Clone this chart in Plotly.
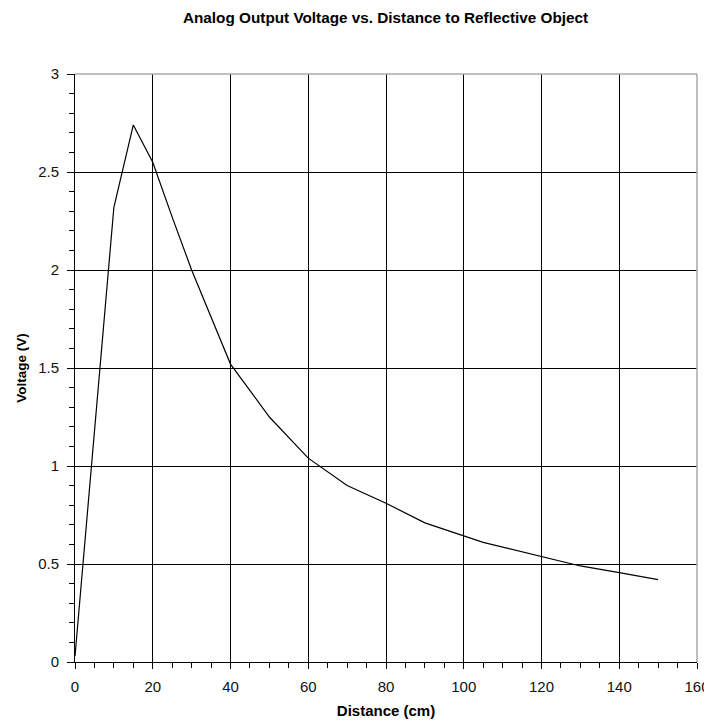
import plotly.graph_objects as go

distance_cm = [0, 10, 15, 20, 25, 30, 40, 50, 60, 70, 80, 90, 105, 120, 130, 140, 150]
voltage_v = [0.03, 2.32, 2.74, 2.55, 2.27, 2.0, 1.52, 1.25, 1.04, 0.90, 0.81, 0.71, 0.61, 0.537, 0.49, 0.456, 0.42]

x_ticks = [0, 20, 40, 60, 80, 100, 120, 140, 160]
y_ticks = [0, 0.5, 1, 1.5, 2, 2.5, 3]
y_tick_text = ["0", "0.5", "1", "1.5", "2", "2.5", "3"]

W, H = 704, 711  # page body has an 8px margin

fig = go.Figure()
fig.add_trace(go.Scatter(x=distance_cm, y=voltage_v, mode="lines",
                         line=dict(color="black", width=1.2), showlegend=False,
                         hoverinfo="skip"))

base = "Liberation Sans, Arial, sans-serif"
tick_font = dict(family=base, size=15, color="#111111")

fig.update_layout(
    width=W, height=H,
    paper_bgcolor="white", plot_bgcolor="white",
    margin=dict(l=66.5, r=14.5, t=66, b=57, autoexpand=False),
    title=dict(text="<b>Analog Output Voltage vs. Distance to Reflective Object</b>",
               x=351.5 / W, xanchor="center", xref="paper",
               y=1 - 9.5 / H, yanchor="middle", yref="container",
               font=dict(family=base, size=15.3, color="black")),
    xaxis=dict(range=[0, 160], tickvals=x_ticks, ticks="outside", ticklen=6, tickcolor="black",
               showgrid=True, gridcolor="black", gridwidth=1, zeroline=False,
               showline=True, linecolor="black", linewidth=1,
               tickfont=tick_font, ticklabelstandoff=5, automargin=False,
               minor=dict(dtick=5, ticks="outside", ticklen=5, tickcolor="black", showgrid=False),
               title=dict(text="<b>Distance (cm)</b>", font=dict(family=base, size=15, color="black"),
                          standoff=12)),
    yaxis=dict(range=[0, 3], tickvals=y_ticks, ticktext=y_tick_text, ticks="outside", ticklen=7,
               tickcolor="black",
               showgrid=True, gridcolor="black", gridwidth=1, zeroline=False,
               showline=True, linecolor="black", linewidth=1,
               tickfont=tick_font, ticklabelstandoff=5, automargin=False,
               minor=dict(dtick=0.1, ticks="outside", ticklen=5, tickcolor="black", showgrid=False),
               title=dict(text="<b>Voltage (V)</b>", font=dict(family=base, size=13.5, color="black"),
                          standoff=8)),
)

fig.add_shape(type="line", xref="x domain", yref="y domain", x0=0, x1=1, y0=1, y1=1,
              line=dict(color="#aaaaaa", width=1.5), layer="above")
fig.add_shape(type="line", xref="x domain", yref="y domain", x0=1, x1=1, y0=0, y1=1,
              line=dict(color="#aaaaaa", width=1.5), layer="above")

fig.write_html("out.html")
